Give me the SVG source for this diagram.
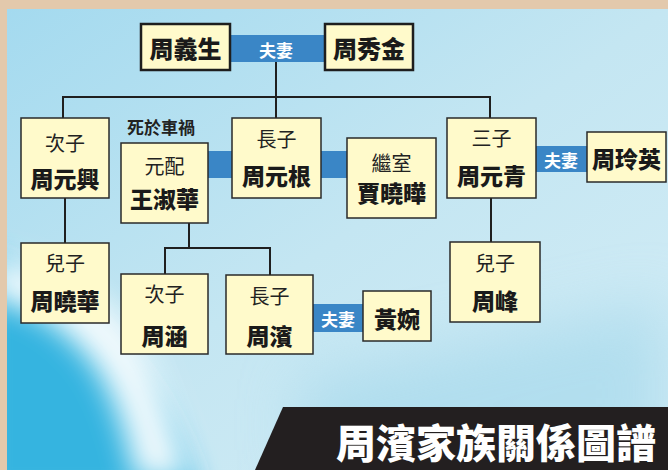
<svg xmlns="http://www.w3.org/2000/svg" width="668" height="470" viewBox="0 0 668 470">
<defs>
<linearGradient id="bg" x1="0" y1="0" x2="1" y2="1">
<stop offset="0" stop-color="#a4daef"/>
<stop offset="0.5" stop-color="#c4e6f2"/>
<stop offset="1" stop-color="#d4edf6"/>
</linearGradient>
<filter id="blur" x="-50%" y="-50%" width="200%" height="200%"><feGaussianBlur stdDeviation="14"/></filter>
<filter id="blur2" x="-50%" y="-50%" width="200%" height="200%"><feGaussianBlur stdDeviation="30"/></filter>
<style>
.box{fill:#fffacb;stroke:#2a2a2a;stroke-width:1.5}
.boxt{fill:#fffacb;stroke:#1e1e1e;stroke-width:2.5}
.bar{fill:#3a86c6}
.ln{stroke:#1f1f1f;stroke-width:2;fill:none}
.lbl{font-family:"Noto Sans CJK TC","Noto Sans CJK SC",sans-serif;font-size:20px;fill:#222;text-anchor:middle;dominant-baseline:central}
.nm{font-family:"Noto Sans CJK TC","Noto Sans CJK SC",sans-serif;font-size:23px;font-weight:900;fill:#1a1a1a;text-anchor:middle;dominant-baseline:central}
.wf{font-family:"Noto Sans CJK TC","Noto Sans CJK SC",sans-serif;font-size:17px;font-weight:700;fill:#fff;text-anchor:middle;dominant-baseline:central}
</style>
</defs>
<g id="background">
<rect width="668" height="470" fill="#e3c9ac"/>
<rect x="7" y="9" width="661" height="461" fill="url(#bg)"/>
<path d="M-20 250 L-20 500 L200 500 Q150 330 -20 250 Z" fill="#2fb2e0" opacity="0.95" filter="url(#blur)"/>
<path d="M-10 255 Q110 280 150 360 Q175 420 190 480 L135 480 Q120 400 90 360 Q50 310 -10 300 Z" fill="#ffffff" opacity="0.9" filter="url(#blur)"/>
<path d="M300 380 L668 300 L668 470 L300 470 Z" fill="#9fd6ea" opacity="0.6" filter="url(#blur2)"/>
<rect x="0" y="0" width="668" height="9" fill="#e3c9ac"/>
<rect x="0" y="0" width="7" height="470" fill="#e3c9ac"/>
</g>
<g id="connectors">
<path class="ln" d="M276 62 V97 M63 119 V97 H490 V119 M276 97 V119"/>
<path class="ln" d="M65 198 V243"/>
<path class="ln" d="M189 223 V248 M165 274 V248 H270 V275"/>
<path class="ln" d="M491 198 V242"/>
</g>
<g id="marriage-bars">
<rect class="bar" x="229" y="35" width="96" height="27"/>
<text class="wf" x="276" y="49">夫妻</text>
<rect class="bar" x="207" y="151" width="141" height="27"/>
<rect class="bar" x="535" y="146" width="53" height="26"/>
<text class="wf" x="561" y="159">夫妻</text>
<rect class="bar" x="312" y="304" width="52" height="28"/>
<text class="wf" x="338" y="318">夫妻</text>
</g>
<g id="n-zhouyisheng"><rect class="boxt" x="141" y="24" width="89" height="46"/><text class="nm" x="185.5" y="47" style="font-size:24px">周義生</text></g>
<g id="n-zhouxiujin"><rect class="boxt" x="325" y="24" width="88" height="46"/><text class="nm" x="369" y="47" style="font-size:24px">周秀金</text></g>
<g id="n-zhouyuanxing"><rect class="box" x="21" y="118" width="88" height="80"/><text class="lbl" x="65" y="142">次子</text><text class="nm" x="65" y="178">周元興</text></g>
<g id="note"><text x="161" y="126" style="font-family:'Noto Sans CJK TC',sans-serif;font-size:17px;font-weight:700;fill:#222;text-anchor:middle;dominant-baseline:central">死於車禍</text></g>
<g id="n-wangshuhua"><rect class="box" x="121" y="143" width="87" height="80"/><text class="lbl" x="164.5" y="165">元配</text><text class="nm" x="164.5" y="198">王淑華</text></g>
<g id="n-zhouyuangen"><rect class="box" x="232" y="118" width="89" height="80"/><text class="lbl" x="276.5" y="138">長子</text><text class="nm" x="276.5" y="175">周元根</text></g>
<g id="n-jiaxiaohua"><rect class="box" x="347" y="138" width="89" height="80"/><text class="lbl" x="391.5" y="162">繼室</text><text class="nm" x="391.5" y="192">賈曉曄</text></g>
<g id="n-zhouyuanqing"><rect class="box" x="447" y="118" width="89" height="80"/><text class="lbl" x="491.5" y="137">三子</text><text class="nm" x="491.5" y="175">周元青</text></g>
<g id="n-zhoulingying"><rect class="box" x="587" y="132" width="79" height="50"/><text class="nm" x="626.5" y="158">周玲英</text></g>
<g id="n-zhouxiaohua"><rect class="box" x="21" y="243" width="88" height="80"/><text class="lbl" x="65" y="262">兒子</text><text class="nm" x="65" y="300">周曉華</text></g>
<g id="n-zhouhan"><rect class="box" x="121" y="274" width="87" height="80"/><text class="lbl" x="164.5" y="293">次子</text><text class="nm" x="164.5" y="335">周涵</text></g>
<g id="n-zhoubin"><rect class="box" x="226" y="275" width="87" height="79"/><text class="lbl" x="269.5" y="295">長子</text><text class="nm" x="269.5" y="335">周濱</text></g>
<g id="n-huangwan"><rect class="box" x="363" y="291" width="68" height="50"/><text class="nm" x="397" y="318">黃婉</text></g>
<g id="n-zhoufeng"><rect class="box" x="450" y="242" width="90" height="80"/><text class="lbl" x="495" y="262">兒子</text><text class="nm" x="495" y="300">周峰</text></g>
<g id="title">
<polygon points="283,407 668,407 668,470 255,470" fill="#231f20"/>
<text x="656" y="441" style="font-family:'Noto Sans CJK TC',sans-serif;font-size:40px;font-weight:900;fill:#fff;text-anchor:end;dominant-baseline:central">周濱家族關係圖譜</text>
</g>
</svg>
